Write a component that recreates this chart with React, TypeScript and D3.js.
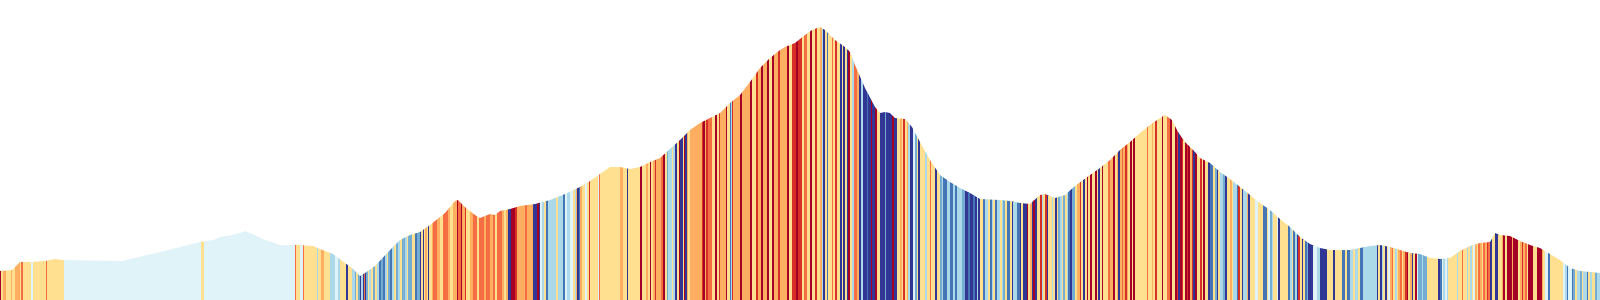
import React, { useMemo } from "react";
import * as d3 from "d3";

// Elevation profile: distance along route (m) and elevation (m)
const profileDistance = [
  0, 360, 450, 600, 900, 1350, 1650, 1890, 3660, 4800, 6000, 6390, 6600, 6960, 7200, 7350, 7500, 7950, 8160, 8400,
  9000, 9390, 9600, 9990, 10350, 10560, 10800, 10950, 11250, 11700, 12000, 12300, 12600, 12900, 13350, 13650, 13740,
  13950, 14250, 14400, 14700, 14850, 15000, 15300, 15600, 16050, 16500, 16950, 17400, 17700, 18000, 18300, 18600,
  18900, 19200, 19500, 19800, 20100, 20400, 20700, 21000, 21300, 21600, 21900, 22200, 22500, 22800, 23100, 23400,
  23550, 23850, 24150, 24360, 24600, 24750, 25050, 25350, 25500, 25650, 25950, 26250, 26400, 26550, 26700, 26850,
  27150, 27360, 27600, 27900, 28200, 28500, 28800, 29100, 29400, 30000, 30300, 30600, 30900, 31200, 31350, 31650,
  31950, 32250, 32700, 33000, 33300, 33600, 33900, 34200, 34500, 34800, 34950, 35160, 35340, 35550, 35850, 36000,
  36300, 36600, 36900, 37200, 37500, 37800, 38100, 38400, 38700, 39000, 39300, 39600, 39900, 40500, 40800, 41100,
  41400, 41700, 42000, 42300, 42600, 42900, 43200, 43500, 43800, 44100, 44400, 44700, 44850, 45000, 45300, 45600,
  45900, 46200, 46500, 46800, 47100, 47400, 47700, 48000,
];
const profileElevation = [
  445, 450, 465, 490, 490, 495, 505, 500, 495, 540, 590, 600, 615, 625, 635, 645, 635, 600, 590, 575,
  575, 570, 555, 530, 485, 460, 420, 435, 470, 550, 600, 625, 640, 675, 735, 795, 800,
  765, 725, 710, 730, 725, 745, 755, 770, 780, 800, 830, 865, 895, 930, 965, 965,
  955, 965, 990, 1010, 1055, 1100, 1150, 1185, 1210, 1235, 1285, 1325, 1390, 1460, 1510, 1550,
  1565, 1585, 1625, 1650, 1665, 1650, 1600, 1565, 1540, 1475, 1360, 1265, 1235, 1240, 1235, 1210,
  1205, 1165, 1090, 1000, 925, 890, 860, 835, 805, 800, 795, 785, 780, 825, 830, 810,
  825, 870, 925, 960, 1000, 1050, 1090, 1135, 1175, 1210, 1225, 1200, 1140, 1090, 1040, 1010,
  985, 940, 905, 865, 825, 785, 750, 705, 665, 615, 580, 560, 550, 550, 560, 570,
  575, 565, 550, 535, 530, 510, 505, 510, 545, 570, 585, 590, 635, 625, 620, 595,
  575, 560, 530, 500, 460, 445, 440, 435,
];

// Segment classes (0 = hottest ... 9 = coolest) with segment lengths in metres, "class:length"
const segmentsPart1 =
  "0:30 4:60 3:90 4:150 3:30 4:90 3:150 4:30 2:60 4:240 5:60 4:390 2:30 4:510 " +
  "5:4110 4:90 5:2730 2:30 4:120 5:90 2:30 4:390 6:30 4:90 3:90 4:180 6:150 5:90 6:60 4:180 9:60 4:120 " +
  "6:90 7:30 4:60 7:60 9:30 6:60 9:30 2:30 9:30 7:60 4:30 6:60 4:60 7:60 4:60 6:60 8:60 7:60 8:60 6:60 4:30 7:60 8:60 6:60 4:60 7:60 6:60";
const segmentsPart2 =
  "4:60 7:90 6:60 4:30 7:120 4:90 8:60 7:90 9:30 4:60 9:30 4:30 3:60 4:30 9:30 4:90 3:30 2:120 3:90 4:90 " +
  "2:150 3:60 4:90 3:120 0:30 2:90 0:30 3:90 1:30 4:120 3:90 2:120 4:60 2:150 3:60 2:120 3:90 2:60 4:60 2:150 " +
  "3:60 4:60 3:60 9:90 0:120 1:60 3:240 2:60 3:180 9:120 0:60 9:30 5:60 6:60 4:60 8:60 6:240 4:60 6:150 8:60 " +
  "5:60 6:90 5:90 4:60 6:30 3:30 9:60 8:30 3:60 4:90 5:60 4:60 1:30 4:240 5:30 2:30 4:600 3:90 4:120 9:30 " +
  "4:360 0:60 4:120 3:60 4:60 0:30 4:60 3:60 1:30 3:150 2:60 0:60 4:60 7:30 6:120 4:30 6:60 9:60 4:60 0:30 " +
  "9:90 4:30 0:30 9:60 3:30 4:60 3:360 1:30 0:60 3:30 1:60 2:120 4:90 0:60 4:60 1:30 3:180 0:30 4:90 8:30 " +
  "6:30 1:30 3:210 0:60 3:240 0:60 4:120 1:60 3:90 0:60 3:120 0:60 4:90 0:60 3:120 1:60 3:210 0:60 4:90 1:120 0:60 1:60";
const segmentsPart3 =
  "1:50 4:70 2:80 4:100 0:50 4:100 1:50 4:100 3:50 6:50 9:50 4:50 8:50 4:100 2:50 4:50 1:50 4:100 9:50 4:50 " +
  "9:50 4:50 9:50 0:50 4:50 6:70 2:80 3:80 9:50 6:50 9:120 8:50 9:70 0:30 9:100 0:50 4:100 9:150 7:30 9:170 " +
  "0:70 9:80 4:100 3:50 4:50 1:50 4:50 3:50 6:50 9:80 5:70 7:50 4:50 9:50 4:150 6:50 4:100 2:30 4:120 9:50 " +
  "4:100 7:50 6:50 8:100 6:100 8:100 6:50 8:50 6:150 7:100 9:100 8:50 9:100 8:50 9:50 6:50 9:50 4:100 8:50 6:100 " +
  "4:50 8:50 6:50 4:50 8:50 6:100 4:50 6:50 7:50 4:50 8:100 4:50 9:50 6:100 8:100 9:30 4:70 9:100 0:50 4:50 " +
  "3:50 9:50 0:50 9:70 4:80 1:50 6:50 4:50 1:50 9:50 4:100 6:50 4:50 9:50 4:50 7:50 6:50 4:50 7:50 4:50 " +
  "6:50 8:50 9:50 7:100 4:50 3:100 1:30 4:70 9:50 4:50 0:50 4:50 0:50 4:100 0:50 4:50 9:50 4:50 0:50 4:150 " +
  "2:50 3:100 0:50 4:50 3:50 9:50 3:50 2:50 3:50 1:50 3:50 4:50 0:50 4:50 0:50 4:350 2:50 4:100 3:50 4:50 " +
  "1:50 4:150 0:50 4:100 2:100 0:50 4:100 0:50 1:50 9:50 0:50 1:50 4:50 0:50 1:50 0:50 3:50 1:50 9:50 0:50 4:100";
const segmentsPart4 =
  "1:50 4:50 0:50 4:100 9:50 8:100 4:50 7:50 9:50 4:50 6:100 7:50 9:50 4:100 3:50 4:50 6:100 8:50 1:50 4:50 " +
  "9:50 6:100 3:50 9:50 4:150 5:100 4:130 8:120 4:50 5:50 7:50 6:50 4:100 5:50 9:50 4:250 8:50 6:50 4:50 8:50 " +
  "6:50 9:50 1:50 4:50 9:50 4:50 8:50 7:50 9:150 5:100 6:100 9:200 4:200 9:50 4:200 8:100 4:50 8:100 6:100 4:50 " +
  "6:100 4:50 8:100 6:400 9:50 4:50 9:50 6:50 4:50 9:50 4:50 5:50 3:50 2:50 4:50 6:50 4:50 3:50 2:50 4:50 " +
  "3:50 1:50 0:50 4:50 3:50 9:50 4:50 0:50 5:50 7:100 6:50 7:100 4:350 9:50 8:50 5:50 6:50 5:50 6:50 4:250 " +
  "6:50 4:100 2:50 4:100 6:50 4:50 6:50 4:50 5:50 3:50 4:50 2:50 3:50 4:50 2:50 3:50 1:50 2:50 9:50 4:100 " +
  "9:100 4:100 3:50 0:50 4:50 0:150 3:50 0:150 4:50 3:50 1:50 3:50 2:50 4:50 0:150 4:100 0:150 3:50 4:50 5:100 " +
  "8:50 4:400 5:50 6:50 8:50 5:100 8:50 7:50 4:50 6:100 7:50 4:50 6:100 8:50 4:50 6:50 4:100 7:50 6:100";

const classColors = ["#a50026", "#d73027", "#f46d43", "#fdae61", "#fee090", "#e0f3f8", "#abd9e9", "#74add1", "#4575b4", "#313695"];

const WIDTH = 1600;
const HEIGHT = 300;

function parseSegments(s: string) {
  return s
    .trim()
    .split(/\s+/)
    .map((t) => {
      const [c, l] = t.split(":").map(Number);
      return { cat: c, len: l };
    });
}

export default function App() {
  const { areaPath, rects } = useMemo(() => {
    const segs = [segmentsPart1, segmentsPart2, segmentsPart3, segmentsPart4].flatMap(parseSegments);
    const total = d3.sum(segs, (d) => d.len);
    const x = d3.scaleLinear().domain([0, Math.max(total, d3.max(profileDistance) as number)]).range([0, WIDTH]);
    const y = d3.scaleLinear().domain([300, 1800]).range([HEIGHT, 0]);
    const pts = profileDistance.map((d, i) => [d, profileElevation[i]] as [number, number]);
    const area = d3
      .area<[number, number]>()
      .x((d) => x(d[0]))
      .y0(HEIGHT)
      .y1((d) => y(d[1]))
      .curve(d3.curveLinear);
    let acc = 0;
    const rects = segs.map((s, i) => {
      const x0 = x(acc);
      acc += s.len;
      const x1 = x(acc);
      return { key: i, x: x0, w: x1 - x0, color: classColors[s.cat] };
    });
    return { areaPath: area(pts) || "", rects };
  }, []);

  return (
    <div style={{ position: "fixed", left: 0, top: 0 }}>
      <svg width={WIDTH} height={HEIGHT} style={{ display: "block", background: "#ffffff" }}>
        <defs>
          <clipPath id="profileClip">
            <path d={areaPath} />
          </clipPath>
        </defs>
        <g clipPath="url(#profileClip)">
          {rects.map((r) => (
            <rect key={r.key} x={r.x} y={0} width={r.w + 0.35} height={HEIGHT} fill={r.color} shapeRendering="crispEdges" />
          ))}
        </g>
      </svg>
    </div>
  );
}
